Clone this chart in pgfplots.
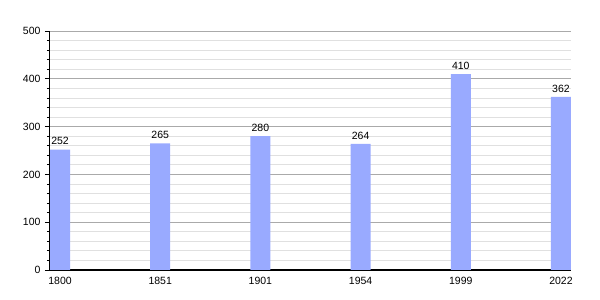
\documentclass[border=0pt]{standalone}
\usepackage{pgfplots}
\pgfplotsset{compat=1.18}
\usepackage{fontspec}
\setmainfont{Liberation Sans}
\definecolor{barblue}{RGB}{153,170,255}
\definecolor{majgrid}{RGB}{170,170,170}
\definecolor{mingrid}{RGB}{224,224,224}
\begin{document}
\begin{tikzpicture}
\useasboundingbox (0pt,0pt) rectangle (600pt,300pt);
\begin{axis}[
  at={(50pt,30pt)}, anchor=south west,
  scale only axis, width=521pt, height=239pt,
  xmin=-0.1, xmax=5.1, ymin=0, ymax=500,
  xtick={0,1,2,3,4,5},
  xticklabels={1800,1851,1901,1954,1999,2022},
  ytick={0,100,200,300,400,500},
  minor y tick num=4,
  ymajorgrids, yminorgrids,
  major grid style={majgrid, line width=0.8pt},
  minor grid style={mingrid, line width=0.8pt},
  axis x line*=bottom, axis y line*=left,
  axis line style={black, line width=1pt, -},
  x tick style={draw=none},
  y tick style={black, line width=0.8pt},
  major tick length=5pt, minor tick length=3pt,
  tick align=outside,
  tick label style={font=\fontsize{10.5}{11}\selectfont, text=black},
  /pgf/number format/assume math mode=true,
  yticklabel style={xshift=-1pt},
  xticklabel style={yshift=1pt},
  nodes near coords,
  every node near coord/.style={font=\fontsize{10.5}{11}\selectfont, text=black, yshift=1pt},
  clip=false,
]
\addplot[ybar, bar width=20pt, fill=barblue, draw=none] coordinates {
 (0,252) (1,265) (2,280) (3,264) (4,410) (5,362)
};
\end{axis}
\end{tikzpicture}
\end{document}
